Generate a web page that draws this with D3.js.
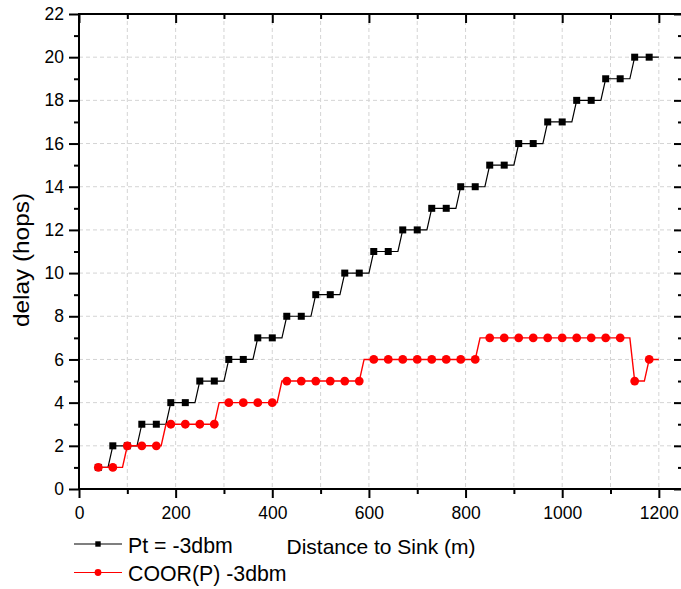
<!DOCTYPE html>
<html>
<head>
<meta charset="utf-8">
<script src="https://cdn.jsdelivr.net/npm/d3@7/dist/d3.min.js"></script>
<style>
  html, body { margin: 0; padding: 0; background: #fff; }
  svg { display: block; font-family: "Liberation Sans", Arial, sans-serif; }
</style>
</head>
<body>
<svg id="chart" width="681" height="589"></svg>
<script>
// ---------------- data ----------------
const distance = [
  40, 50, 60, 70, 80, 90, 100, 110, 120, 130, 140, 150, 160, 170, 180, 190, 200, 210, 220, 230,
  240, 250, 260, 270, 280, 290, 300, 310, 320, 330, 340, 350, 360, 370, 380, 390, 400, 410, 420, 430,
  440, 450, 460, 470, 480, 490, 500, 510, 520, 530, 540, 550, 560, 570, 580, 590, 600, 610, 620, 630,
  640, 650, 660, 670, 680, 690, 700, 710, 720, 730, 740, 750, 760, 770, 780, 790, 800, 810, 820, 830,
  840, 850, 860, 870, 880, 890, 900, 910, 920, 930, 940, 950, 960, 970, 980, 990, 1000, 1010, 1020, 1030,
  1040, 1050, 1060, 1070, 1080, 1090, 1100, 1110, 1120, 1130, 1140, 1150, 1160, 1170, 1180, 1190, 1200
];
const delayPt = [
  1, 1, 1,
  2, 2, 2, 2, 2, 2,
  3, 3, 3, 3, 3, 3,
  4, 4, 4, 4, 4, 4,
  5, 5, 5, 5, 5, 5,
  6, 6, 6, 6, 6, 6,
  7, 7, 7, 7, 7, 7,
  8, 8, 8, 8, 8, 8,
  9, 9, 9, 9, 9, 9,
  10, 10, 10, 10, 10, 10,
  11, 11, 11, 11, 11, 11,
  12, 12, 12, 12, 12, 12,
  13, 13, 13, 13, 13, 13,
  14, 14, 14, 14, 14, 14,
  15, 15, 15, 15, 15, 15,
  16, 16, 16, 16, 16, 16,
  17, 17, 17, 17, 17, 17,
  18, 18, 18, 18, 18, 18,
  19, 19, 19, 19, 19, 19,
  20, 20, 20, 20, 20, 20
];
const delayCoor = [
  1, 1, 1, 1, 1, 1,
  2, 2, 2, 2, 2, 2, 2, 2,
  3, 3, 3, 3, 3, 3, 3, 3, 3, 3, 3,
  4, 4, 4, 4, 4, 4, 4, 4, 4, 4, 4, 4, 4,
  5, 5, 5, 5, 5, 5, 5, 5, 5, 5, 5, 5, 5, 5, 5, 5, 5,
  6, 6, 6, 6, 6, 6, 6, 6, 6, 6, 6, 6, 6, 6, 6, 6, 6, 6, 6, 6, 6, 6, 6, 6,
  7, 7, 7, 7, 7, 7, 7, 7, 7, 7, 7, 7, 7, 7, 7, 7, 7, 7, 7, 7, 7, 7, 7, 7, 7, 7, 7, 7, 7, 7, 7, 7,
  5, 5, 5,
  6, 6, 6
];
const seriesNames = ["Pt = -3dbm", "COOR(P) -3dbm"];
const xTicks = [0, 200, 400, 600, 800, 1000, 1200];
const yTicks = [0, 2, 4, 6, 8, 10, 12, 14, 16, 18, 20, 22];
const xTitle = "Distance to Sink (m)";
const yTitle = "delay (hops)";

// ---------------- layout ----------------
(function () {
const svg = d3.select("#chart");
const pL = 79, pR = 683, pT = 14, pB = 489;
const x = d3.scaleLinear().domain([0, 1250]).range([pL, pR]);
const y = d3.scaleLinear().domain([0, 22]).range([pB, pT]);
const markerEvery = 3;

// grid
const grid = svg.append("g").attr("stroke", "#d4d4d4").attr("stroke-width", 1).attr("stroke-dasharray", "4,3");
d3.range(100, 1250, 100).forEach(v => {
  grid.append("line").attr("x1", x(v)).attr("x2", x(v)).attr("y1", pT).attr("y2", pB);
});
yTicks.filter(v => v > 0 && v < 22).forEach(v => {
  grid.append("line").attr("x1", pL).attr("x2", pR).attr("y1", y(v)).attr("y2", y(v));
});

// series
const series = [
  { name: seriesNames[0], values: delayPt, color: "#000000", shape: "square", width: 1.2 },
  { name: seriesNames[1], values: delayCoor, color: "#ff0000", shape: "circle", width: 1.4 }
];
const line = d3.line().x(d => x(d[0])).y(d => y(d[1]));

series.forEach(s => {
  const pts = distance.map((d, i) => [d, s.values[i]]);
  svg.append("path").datum(pts)
    .attr("fill", "none").attr("stroke", s.color).attr("stroke-width", s.width)
    .attr("d", line);
  const mk = pts.filter((p, i) => i % markerEvery === 0);
  if (s.shape === "square") {
    svg.append("g").selectAll("rect").data(mk).join("rect")
      .attr("x", d => x(d[0]) - 3.5).attr("y", d => y(d[1]) - 3.5)
      .attr("width", 7).attr("height", 7).attr("fill", s.color);
  } else {
    svg.append("g").selectAll("circle").data(mk).join("circle")
      .attr("cx", d => x(d[0])).attr("cy", d => y(d[1]))
      .attr("r", 4.4).attr("fill", s.color);
  }
});

// axes
const axisStroke = 2;
function styleAxis(g) {
  g.select(".domain").remove();
  g.selectAll("line").attr("stroke", "#000").attr("stroke-width", axisStroke);
  g.selectAll("text").attr("fill", "#000").style("font-size", "17.5px")
    .style("font-family", "'Liberation Sans', Arial, sans-serif");
}
const xMinor = d3.range(100, 1250, 200);
const yMinor = d3.range(1, 22, 2);

// bottom
svg.append("g").attr("transform", `translate(0,${pB})`)
  .call(d3.axisBottom(x).tickValues(xTicks).tickSize(9).tickPadding(9).tickFormat(d3.format("d")))
  .call(styleAxis);
svg.append("g").attr("transform", `translate(0,${pB})`)
  .call(d3.axisBottom(x).tickValues(xMinor).tickSize(5).tickFormat(""))
  .call(styleAxis);
// top (inward)
svg.append("g").attr("transform", `translate(0,${pT})`)
  .call(d3.axisBottom(x).tickValues(xTicks).tickSize(9).tickFormat("")).call(styleAxis);
svg.append("g").attr("transform", `translate(0,${pT})`)
  .call(d3.axisBottom(x).tickValues(xMinor).tickSize(5).tickFormat("")).call(styleAxis);
// left
svg.append("g").attr("transform", `translate(${pL},0)`)
  .call(d3.axisLeft(y).tickValues(yTicks).tickSize(10).tickPadding(5).tickFormat(d3.format("d")))
  .call(styleAxis);
svg.append("g").attr("transform", `translate(${pL},0)`)
  .call(d3.axisLeft(y).tickValues(yMinor).tickSize(5).tickFormat("")).call(styleAxis);
// right (inward)
svg.append("g").attr("transform", `translate(${pR},0)`)
  .call(d3.axisLeft(y).tickValues(yTicks).tickSize(9).tickFormat("")).call(styleAxis);
svg.append("g").attr("transform", `translate(${pR},0)`)
  .call(d3.axisLeft(y).tickValues(yMinor).tickSize(5).tickFormat("")).call(styleAxis);

// frame lines
const frame = svg.append("g").attr("stroke", "#000").attr("stroke-width", axisStroke);
frame.append("line").attr("x1", pL).attr("x2", pR + 1).attr("y1", pT).attr("y2", pT);
frame.append("line").attr("x1", pL - 1).attr("x2", pR + 1).attr("y1", pB).attr("y2", pB);
frame.append("line").attr("x1", pL).attr("x2", pL).attr("y1", pT - 1).attr("y2", pB + 1);
frame.append("line").attr("x1", pR).attr("x2", pR).attr("y1", pT - 1).attr("y2", pB + 1);

// titles
svg.append("text").attr("x", 381).attr("y", 554).attr("text-anchor", "middle")
  .style("font-size", "21px").attr("fill", "#000").text(xTitle);
svg.append("text").attr("transform", "translate(29,260) rotate(-90)").attr("text-anchor", "middle")
  .attr("textLength", 134).attr("lengthAdjust", "spacingAndGlyphs")
  .style("font-size", "22px").attr("fill", "#000").text(yTitle);

// legend
const legend = svg.append("g");
series.forEach((s, i) => {
  const ly = 544 + i * 28.5;
  legend.append("line").attr("x1", 74).attr("x2", 122).attr("y1", ly).attr("y2", ly)
    .attr("stroke", s.color).attr("stroke-width", 1.2);
  if (s.shape === "square") {
    legend.append("rect").attr("x", 98 - 2.7).attr("y", ly - 2.7).attr("width", 5.4).attr("height", 5.4).attr("fill", s.color);
  } else {
    legend.append("circle").attr("cx", 98).attr("cy", ly).attr("r", 3.4).attr("fill", s.color);
  }
  legend.append("text").attr("x", 128).attr("y", ly + 8.5)
    .style("font-size", "21.3px").attr("fill", "#000").text(s.name);
});
})();
</script>
</body>
</html>
